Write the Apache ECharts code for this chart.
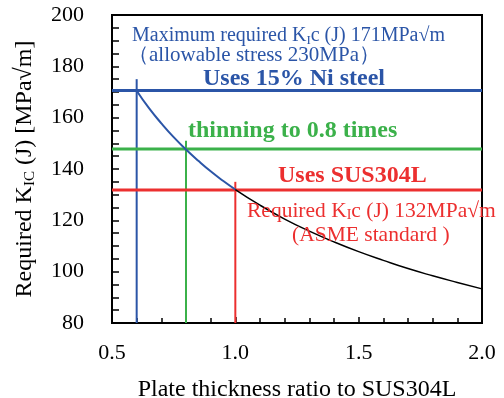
<!DOCTYPE html>
<html>
<head>
<meta charset="utf-8">
<script src="https://cdn.jsdelivr.net/npm/echarts@6/dist/echarts.min.js"></script>
<style>
  html, body { margin: 0; padding: 0; background: #fff; }
  #chart { width: 504px; height: 398px; }
</style>
</head>
<body>
<div id="chart"></div>
<script>
// values
const xTicks = [0.5, 1.0, 1.5, 2.0];
const yTicks = [80, 100, 120, 140, 160, 180, 200];

// required KIc curve, blue part (0.6 - 1.0) and black part (1.0 - 2.0)
const ratioBlue = [0.6, 0.65, 0.7, 0.75, 0.8, 0.85, 0.9, 0.95, 1.0];
const kicBlue = [170.5, 163.7, 157.8, 152.4, 147.6, 143.2, 139.1, 135.4, 132];
const ratioBlack = [1.0, 1.1, 1.2, 1.3, 1.4, 1.5, 1.6, 1.7, 1.8, 1.9, 2.0];
const kicBlack = [132, 125.9, 120.5, 115.8, 111.6, 107.8, 104.4, 101.2, 98.4, 95.8, 93.3];

// horizontal levels and vertical thickness markers
const levels = [170.6, 147.8, 131.8];
const markRatio = [0.6, 0.8, 1.0];
const markTop = [175, 151, 135];

const BLUE = '#2b55a7';
const GREEN = '#3bb14a';
const RED = '#ec2f2f';
const colors = [BLUE, GREEN, RED];
const FONT = '"Liberation Serif", "Times New Roman", serif';

const pairs = (xs, ys) => xs.map((x, i) => [x, ys[i]]);

const series = [
  {
    type: 'line', data: pairs(ratioBlue, kicBlue), smooth: true, symbol: 'none',
    lineStyle: { color: BLUE, width: 2 }, z: 3
  },
  {
    type: 'line', data: pairs(ratioBlack, kicBlack), smooth: true, symbol: 'none',
    lineStyle: { color: '#000', width: 1.5 }, z: 3
  }
];
levels.forEach((lv, i) => {
  series.push({
    type: 'line', data: [[xTicks[0], lv], [xTicks[xTicks.length - 1], lv]],
    symbol: 'none', lineStyle: { color: colors[i], width: 3 }, z: 2
  });
  series.push({
    type: 'line', data: [[markRatio[i], yTicks[0]], [markRatio[i], markTop[i]]],
    symbol: 'none', lineStyle: { color: colors[i], width: 2 }, z: 2
  });
});

const sub = { fontSize: 14, fontFamily: FONT, verticalAlign: 'bottom', lineHeight: 14 };

function label(left, top, text, fill, size, weight, extraRich) {
  const base = { fontSize: size, fontFamily: FONT, fontWeight: weight, lineHeight: size + 2 };
  return {
    type: 'text', left: left, top: top, z: 10,
    style: {
      text: text, fill: fill, font: weight + ' ' + size + 'px ' + FONT,
      rich: Object.assign({ n: base }, extraRich || {})
    }
  };
}

const chart = echarts.init(document.getElementById('chart'));
chart.setOption({
  animation: false,
  backgroundColor: '#fff',
  grid: {
    left: 112, right: 22, top: 15, bottom: 75,
    outerBoundsMode: 'none', containLabel: false,
    show: true, borderColor: '#000', borderWidth: 2
  },
  xAxis: {
    type: 'value', min: 0.5, max: 2.0, interval: 0.5,
    name: 'Plate thickness ratio to SUS304L', nameLocation: 'middle', nameGap: 55,
    nameTextStyle: { fontFamily: FONT, fontSize: 24, color: '#000' },
    axisLine: { show: true, lineStyle: { color: '#000', width: 2 } },
    axisTick: { show: true, inside: true, length: 6, lineStyle: { color: '#000', width: 1.5 } },
    minorTick: { show: true, splitNumber: 5, length: 5, lineStyle: { color: '#000', width: 1.5 } },
    splitLine: { show: false },
    axisLabel: {
      margin: 19, fontFamily: FONT, fontSize: 22, color: '#000',
      formatter: v => v.toFixed(1)
    }
  },
  yAxis: {
    type: 'value', min: 80, max: 200, interval: 20,
    name: '{n|Required K}{s|IC}{n| (J) [MPa√m]}', nameLocation: 'middle', nameGap: 74,
    nameTextStyle: {
      fontFamily: FONT, fontSize: 24, color: '#000',
      rich: { n: { fontFamily: FONT, fontSize: 24, color: '#000', lineHeight: 26 }, s: Object.assign({ color: '#000' }, sub, { fontSize: 15 }) }
    },
    axisLine: { show: true, lineStyle: { color: '#000', width: 2 } },
    axisTick: { show: true, inside: true, length: 7, lineStyle: { color: '#000', width: 1.5 } },
    minorTick: { show: true, splitNumber: 4, length: 7, lineStyle: { color: '#000', width: 1.5 } },
    splitLine: { show: false },
    axisLabel: { margin: 28, fontFamily: FONT, fontSize: 22, color: '#000' }
  },
  graphic: [
    label(132, 26, '{n|Maximum required K}{s|I}{n|c (J) 171MPa√m}', BLUE, 20, 'normal', { s: Object.assign({ fill: BLUE, color: BLUE }, sub, { fontSize: 13 }) }),
    label(128, 45, '{n|（allowable stress 230MPa）}', BLUE, 21, 'normal'),
    label(203, 67, '{n|Uses 15% Ni steel}', BLUE, 24, 'bold'),
    label(188, 119, '{n|thinning to 0.8 times}', GREEN, 24, 'bold'),
    label(278, 164, '{n|Uses SUS304L}', RED, 24, 'bold'),
    label(247, 200, '{n|Required K}{s|I}{n|c (J) 132MPa√m}', RED, 21.5, 'normal', { s: Object.assign({ fill: RED, color: RED }, sub) }),
    label(292, 224, '{n|(ASME standard )}', RED, 21.5, 'normal')
  ],
  series: series
});
</script>
</body>
</html>
